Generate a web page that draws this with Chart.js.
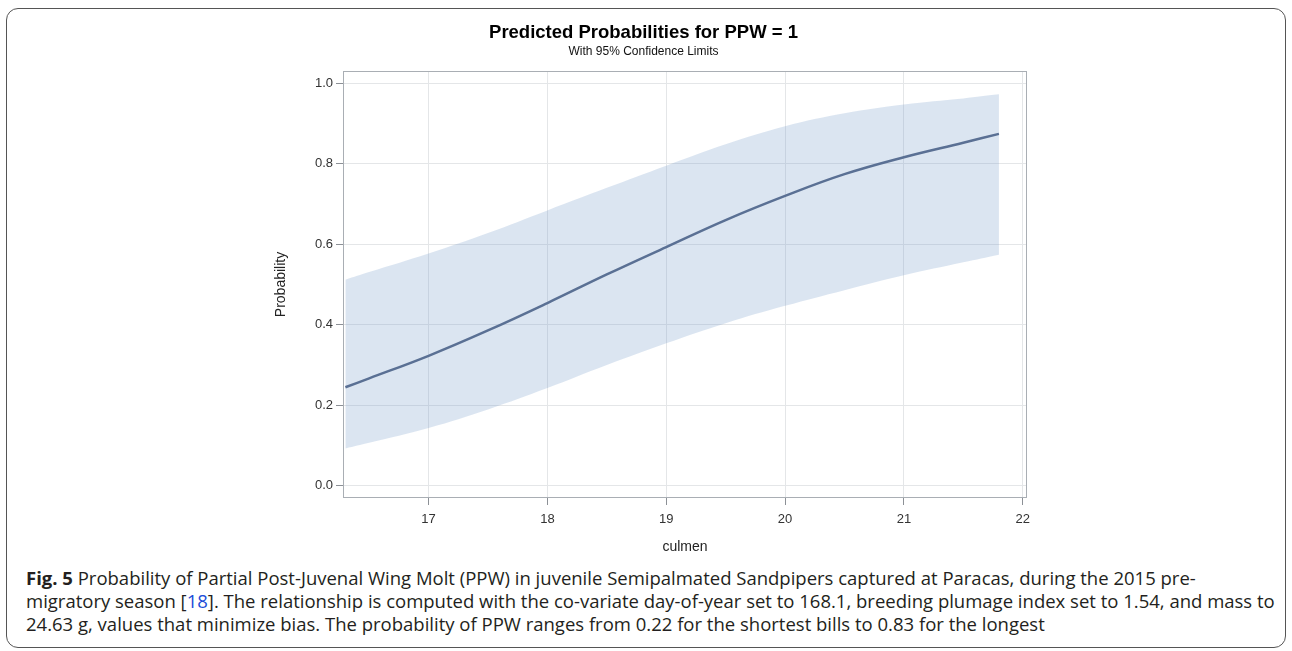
<!DOCTYPE html>
<html>
<head>
<meta charset="utf-8">
<script src="https://cdn.jsdelivr.net/npm/chart.js@4/dist/chart.umd.min.js"></script>
<style>
    html, body { margin: 0; padding: 0; background: #fff; }
    body { width: 1292px; height: 651px; position: relative; overflow: hidden; }
    .figure-frame {
        position: absolute; left: 6px; top: 8px; width: 1280px; height: 640px;
        border: 1.5px solid #555; border-radius: 12px; box-sizing: border-box;
    }
    .chart-box { position: absolute; left: 260px; top: 18px; width: 850px; height: 542px; }
    .caption {
        position: absolute; left: 26px; top: 566px;
        font-family: 'Open Sans', 'Liberation Sans', sans-serif; font-size: 18.5px;
        line-height: 23px; color: #231f20; white-space: nowrap;
    }
    .caption b { font-weight: bold; }
    .caption .ref { color: #1a4dd8; }
</style>
</head>
<body>
<div class="figure-frame"></div>
<div class="chart-box"><canvas id="canvas"></canvas></div>
<div class="caption">
    <b>Fig. 5</b> Probability of Partial Post-Juvenal Wing Molt (PPW) in juvenile Semipalmated Sandpipers captured at Paracas, during the 2015 pre-<br>
    migratory season [<span class="ref">18</span>]. The relationship is computed with the co-variate day-of-year set to 168.1, breeding plumage index set to 1.54, and mass to<br>
    24.63 g, values that minimize bias. The probability of PPW ranges from 0.22 for the shortest bills to 0.83 for the longest
</div>
<script>
const culmen = [16.3, 16.5, 17, 17.5, 18, 18.5, 19, 19.5, 20, 20.5, 21, 21.5, 21.8];
const predicted = [0.245, 0.267, 0.323, 0.386, 0.454, 0.525, 0.593, 0.660, 0.720, 0.774, 0.816, 0.852, 0.874];
const upperLimit = [0.512, 0.531, 0.577, 0.628, 0.684, 0.740, 0.795, 0.848, 0.893, 0.925, 0.947, 0.962, 0.972];
const lowerLimit = [0.093, 0.107, 0.144, 0.190, 0.243, 0.300, 0.354, 0.404, 0.447, 0.486, 0.523, 0.555, 0.574];

const xTicks = [17, 18, 19, 20, 21, 22];
const yTicks = [0.0, 0.2, 0.4, 0.6, 0.8, 1.0];

const toPoints = (values) => values.map((v, i) => ({ x: culmen[i], y: v }));

const frameBorder = {
    id: 'frameBorder',
    afterDatasetsDraw(chart) {
        const { ctx, chartArea } = chart;
        ctx.save();
        ctx.strokeStyle = '#a9aeb4';
        ctx.lineWidth = 1;
        ctx.strokeRect(chartArea.left + 0.5, chartArea.top + 0.5,
            chartArea.right - chartArea.left - 1, chartArea.bottom - chartArea.top - 1);
        ctx.restore();
    }
};

const sans = "'Liberation Sans', Arial, sans-serif";
const tickFont = { family: sans, size: 13 };

const config = {
    type: 'line',
    data: {
        datasets: [
            {
                label: 'Predicted',
                data: toPoints(predicted),
                borderColor: '#5a7094',
                borderWidth: 2.5,
                pointRadius: 0,
                tension: 0.4,
                fill: false
            },
            {
                label: 'Upper 95% CL',
                data: toPoints(upperLimit),
                borderWidth: 0,
                borderColor: 'rgba(0,0,0,0)',
                pointRadius: 0,
                tension: 0.4,
                backgroundColor: 'rgba(111,151,199,0.25)',
                fill: '+1'
            },
            {
                label: 'Lower 95% CL',
                data: toPoints(lowerLimit),
                borderWidth: 0,
                borderColor: 'rgba(0,0,0,0)',
                pointRadius: 0,
                tension: 0.4,
                fill: false
            }
        ]
    },
    options: {
        responsive: true,
        maintainAspectRatio: false,
        animation: false,
        layout: { padding: { left: 0, right: 83, top: 0, bottom: 0 } },
        plugins: {
            legend: { display: false },
            tooltip: { enabled: false },
            title: {
                display: true,
                text: 'Predicted Probabilities for PPW = 1',
                color: '#000',
                font: { family: sans, size: 18.5, weight: 'bold' },
                padding: { top: 4, bottom: 0 }
            },
            subtitle: {
                display: true,
                text: 'With 95% Confidence Limits',
                color: '#111',
                font: { family: sans, size: 12 },
                padding: { top: 0, bottom: 12.4 }
            }
        },
        scales: {
            x: {
                type: 'linear',
                min: 16.28,
                max: 22.036,
                afterBuildTicks: (axis) => { axis.ticks = xTicks.map(v => ({ value: v })); },
                afterFit: (axis) => { axis.height = 62; },
                border: { display: false },
                grid: { color: '#e4e6e8', tickColor: '#8c9096', tickLength: 7 },
                ticks: { color: '#333', font: tickFont, padding: 7, maxRotation: 0 },
                title: {
                    display: true,
                    text: 'culmen',
                    color: '#222',
                    font: { family: sans, size: 14 },
                    padding: { top: 4, bottom: 4 }
                }
            },
            y: {
                type: 'linear',
                min: -0.03,
                max: 1.03,
                afterBuildTicks: (axis) => { axis.ticks = yTicks.map(v => ({ value: v })); },
                afterFit: (axis) => { axis.width = 83; },
                border: { display: false },
                grid: { color: '#e4e6e8', tickColor: '#8c9096', tickLength: 7 },
                ticks: {
                    color: '#333',
                    font: tickFont,
                    padding: 3,
                    callback: (value) => value.toFixed(1)
                },
                title: {
                    display: true,
                    text: 'Probability',
                    color: '#222',
                    font: { family: sans, size: 14 },
                    padding: { top: 13, bottom: 4 }
                }
            }
        }
    },
    plugins: [frameBorder]
};

const ctx = document.getElementById('canvas');
const chart = new Chart(ctx, config);
</script>
</body>
</html>
